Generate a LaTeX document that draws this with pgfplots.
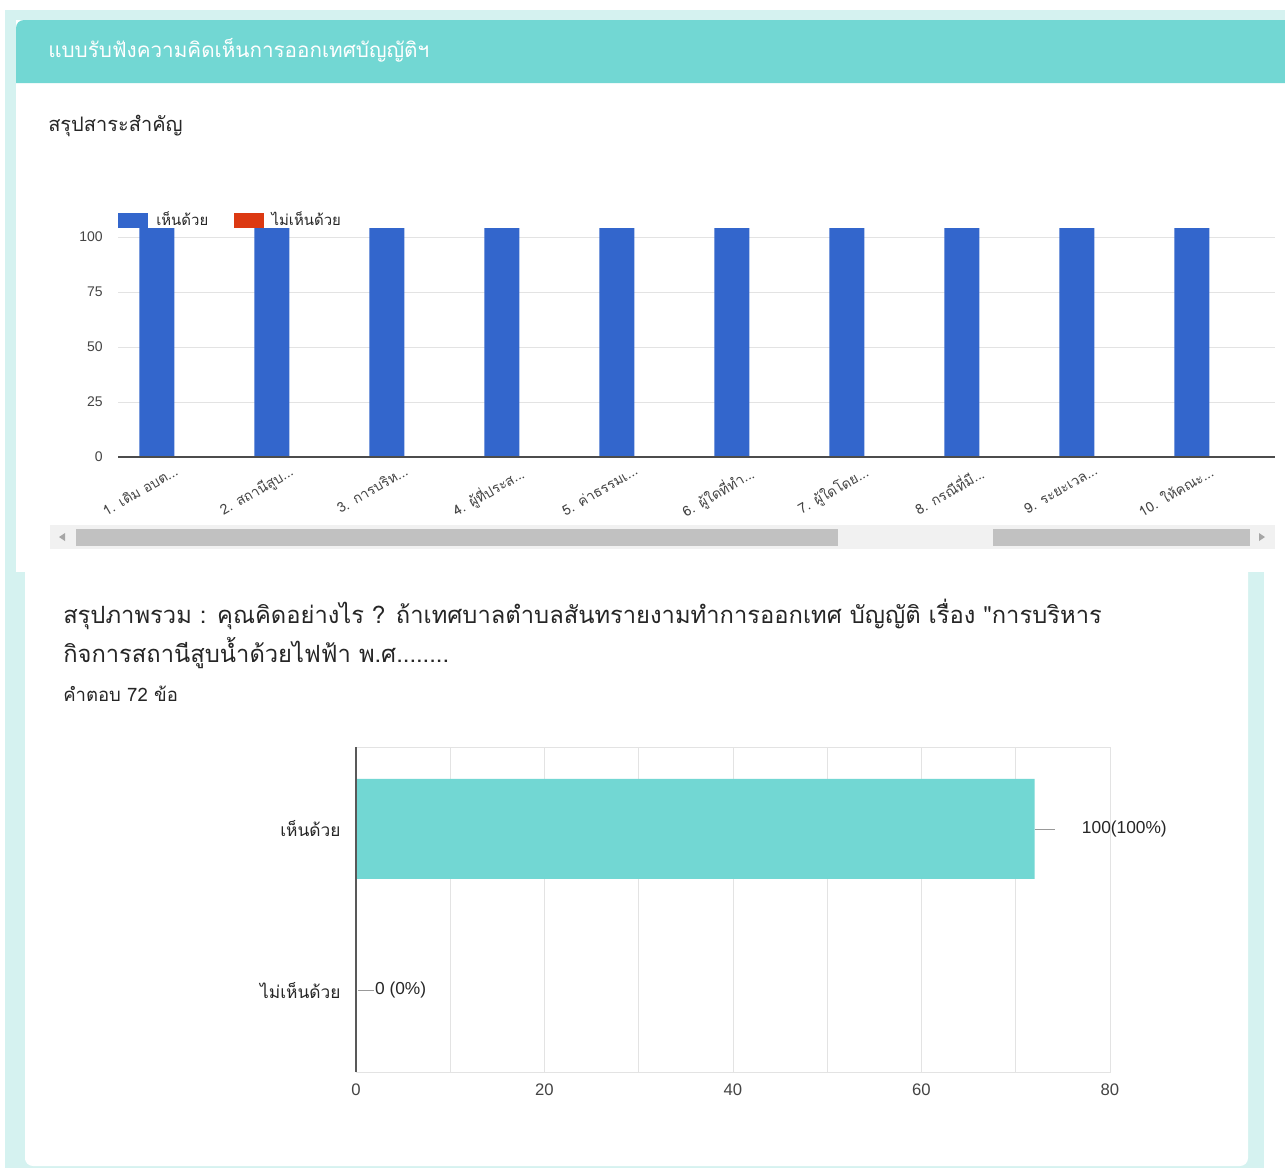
\documentclass[border=0pt]{standalone}
\usepackage{fontspec}
\setmainfont{Liberation Sans}
\newfontfamily\thai[Script=Thai]{Loma}
\usepackage{pgfplots}
\pgfplotsset{compat=1.18}

\definecolor{gblue}{HTML}{3366CC}
\definecolor{gred}{HTML}{DC3912}
\definecolor{tealhead}{HTML}{72D7D3}
\definecolor{tealbg}{HTML}{D5F2F0}
\definecolor{scrollbg}{HTML}{F1F1F1}
\definecolor{thumb}{HTML}{C1C1C1}
\definecolor{gridc}{HTML}{E3E3E3}
\definecolor{ticktxt}{HTML}{444444}

\begin{document}
\begin{tikzpicture}
% 1 px of the reference = 0.75pt
\begin{scope}[x=0.75pt,y=-0.75pt]
\path[use as bounding box] (0,0) rectangle (1285,1168);
% page background and cards
\fill[white] (0,0) rectangle (1285,1168);
\fill[tealbg] (5,10) rectangle (1285,1168);
\fill[white] (16,20) rectangle (1285,572);
\fill[white] (1264,572) rectangle (1285,1168);
\fill[white] (25,572) -- (25,1160) [rounded corners=6pt] -- (25,1166) -- (1248,1166) [sharp corners] -- (1248,572) -- cycle;
\fill[tealhead] (16,83) [rounded corners=6pt] -- (16,20) [sharp corners] -- (1285,20) -- (1285,83) -- cycle;
% scrollbar
\fill[scrollbg] (50,525) rectangle (1275,549);
\fill[thumb] (76,529) rectangle (838,546);
\fill[thumb] (993,529) rectangle (1250,546);
\fill[gray!70] (59,537) -- (65,533) -- (65,541) -- cycle;
\fill[gray!70] (1265,537) -- (1259,533) -- (1259,541) -- cycle;
% texts
\node[anchor=west, text=white, font=\thai\fontsize{15.5}{18}\selectfont, inner sep=0pt] at (48,50) {แบบรับฟังความคิดเห็นการออกเทศบัญญัติฯ};
\node[anchor=west, text=black!85, font=\thai\fontsize{15}{18}\selectfont, inner sep=0pt] at (48,126) {สรุปสาระสำคัญ};
\node[anchor=west, text=black!85, font=\thai\fontsize{17.8}{21}\selectfont, inner sep=0pt] at (63,614) {สรุปภาพรวม : คุณคิดอย่างไร ? ถ้าเทศบาลตำบลสันทรายงามทำการออกเทศ บัญญัติ เรื่อง "การบริหาร};
\node[anchor=west, text=black!85, font=\thai\fontsize{17.8}{21}\selectfont, inner sep=0pt] at (63,653) {กิจการสถานีสูบน้ำด้วยไฟฟ้า พ.ศ{........}};
\node[anchor=west, text=black!85, font=\thai\fontsize{13.9}{16}\selectfont, inner sep=0pt] at (63,694) {คำตอบ 72 ข้อ};
\end{scope}

% top chart
\begin{axis}[
    at={(88.5pt,-342.75pt)}, anchor=south west,
    scale only axis, width=867.75pt, height=181.5pt,
    ybar=0pt, bar width=26.25pt,
    xmin=0.509, xmax=10.57, ymin=0, ymax=110,
    xtick={1,2,3,4,5,6,7,8,9,10},
    xticklabels={{1. เดิม อบต{...}},{2. สถานีสูบ{...}},{3. การบริห{...}},{4. ผู้ที่ประส{...}},{5. ค่าธรรมเ{...}},{6. ผู้ใดที่ทำ{...}},{7. ผู้ใดโดย{...}},{8. กรณีที่มี{...}},{9. ระยะเวล{...}},{10. ให้คณะ{...}}},
    ytick={0,25,50,75,100},
    /pgf/number format/assume math mode=true,
    ymajorgrids, grid style={gridc},
    axis line style={draw=none},
    major tick length=0pt,
    tick label style={text=ticktxt},
    yticklabel style={font=\fontsize{10.5}{12}\selectfont, xshift=-8pt},
    xticklabel style={font=\thai\fontsize{10.5}{12}\selectfont, rotate=30, anchor=north east, yshift=-1pt},
    legend style={at={(0,0.979)}, anchor=west, draw=none, fill=none, inner xsep=0pt,
        font=\thai\fontsize{11.2}{13}\selectfont, text=black!85,
        /tikz/every odd column/.append style={column sep=4pt},
        /tikz/every even column/.append style={column sep=17pt}},
    legend columns=2, legend cell align=left,
    legend image code/.code={\fill[#1] (0pt,-5.6pt) rectangle (22.5pt,5.6pt);},
]
\addplot[fill=gblue, draw=none] coordinates {(1,104) (2,104) (3,104) (4,104) (5,104) (6,104) (7,104) (8,104) (9,104) (10,104)};
\addplot[fill=gred, draw=none] coordinates {(1,0) (2,0) (3,0) (4,0) (5,0) (6,0) (7,0) (8,0) (9,0) (10,0)};
\legend{เห็นด้วย, ไม่เห็นด้วย}
\draw[black!70, line width=0.8pt] (axis description cs:0,0) -- (axis description cs:1,0);
\end{axis}

% bottom chart
\begin{axis}[
    at={(267pt,-804pt)}, anchor=south west,
    scale only axis, width=565.5pt, height=243.75pt,
    clip=false,
    xbar, bar width=75pt, y dir=reverse,
    xmin=0, xmax=80, ymin=-0.509, ymax=1.509,
    ytick={0,1}, yticklabels={{\thai เห็นด้วย},{\thai ไม่เห็นด้วย}},
    xtick={0,20,40,60,80}, minor xtick={10,30,50,70},
    /pgf/number format/assume math mode=true,
    xmajorgrids, xminorgrids, grid style={gridc}, minor grid style={gridc},
    axis line style={draw=gridc},
    major tick length=0pt, minor tick length=0pt,
    tick label style={text=ticktxt, font=\fontsize{12.5}{14}\selectfont},
    yticklabel style={text=black!85, font=\fontsize{13}{15}\selectfont, xshift=-8pt},
    xticklabel style={yshift=-5pt},
]
\addplot[fill=tealhead, draw=none] coordinates {(72,0) (0,1)};
\draw[black!65, line width=1.2pt] (axis description cs:0,0) -- (axis description cs:0,1);
\draw[gray!80] (axis cs:72,0) -- (axis cs:74.2,0);
\node[anchor=west, inner sep=0pt, font=\fontsize{13}{15}\selectfont, text=black!85] at (axis cs:77,0) {100(100\%)};
\draw[gray!80] (axis cs:0.2,1) -- (axis cs:1.9,1);
\node[anchor=west, inner sep=0pt, font=\fontsize{13}{15}\selectfont, text=black!85] at (axis cs:2.0,1) {0 (0\%)};
\end{axis}
\end{tikzpicture}
\end{document}
